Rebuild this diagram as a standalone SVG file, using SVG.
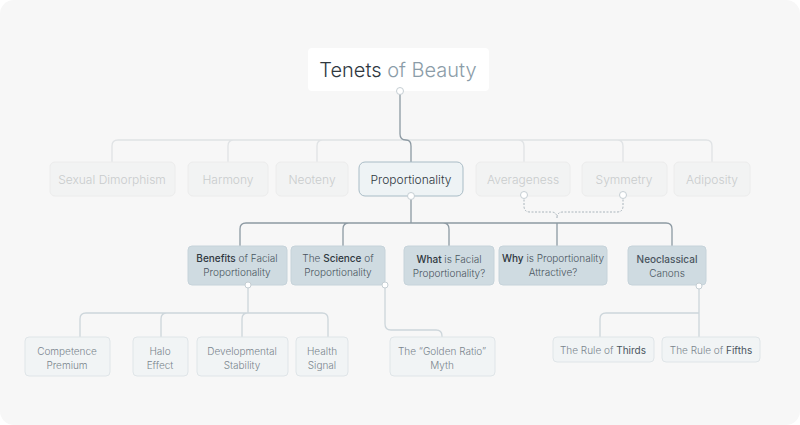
<svg xmlns="http://www.w3.org/2000/svg" width="800" height="425" viewBox="0 0 800 425">
<style>
text{font-family:Inter,"Liberation Sans",sans-serif;text-anchor:middle;dominant-baseline:central;font-weight:300}
.f rect{fill:#f2f3f3;stroke:#ececec}
.f text{fill:#c9cccd;font-size:12px}
.l2 rect{fill:#cfdbe1;stroke:#c6d3da}
.l2 text{fill:#4a5560;font-size:10px}
.l3 rect{fill:#f1f4f5;stroke:#dfe5e8}
.l3 text{fill:#7a858d;font-size:10px}
.b{fill:#2f383f;font-weight:500}
.c{fill:none;stroke:#e0e3e5;stroke-width:1.3}
.d{fill:none;stroke:#8d9aa3;stroke-width:1.3}
.s{fill:none;stroke:#cdd6db;stroke-width:1.3}
.dot{fill:#fff;stroke:#c5ced3}
</style>
<rect x="0" y="0" width="800" height="425" rx="14" fill="#f7f7f7"/>
<g id="connectors">
<path class="c" d="M112 162V146Q112 140 118 140H706Q712 140 712 146V162M228 162V146Q228 140 234 140M317 162V146Q317 140 323 140M524 162V146Q524 140 518 140M623 162V146Q623 140 617 140"/>
<path class="d" d="M400 93V134Q400 140 406 140Q411 140 411 146V162"/>
<path class="d" d="M411 196V223M246 223Q240 223 240 229V246M246 223H666Q672 223 672 229V246M343 246V229Q343 223 349 223M449 246V229Q449 223 443 223M557 223V246"/>
<path fill="none" stroke="#aab5bc" stroke-dasharray="2 1.5" d="M524 196V206Q524 212 530 212H551Q557 212 557 218M623 196V206Q623 212 617 212H563Q557 212 557 218"/>
<path class="s" d="M248 287V313M86 313Q80 313 80 319V337M86 313H322Q328 313 328 319V337M161 337V319Q161 313 167 313M242 337V319Q242 313 248 313"/>
<path class="s" d="M385 287V324Q385 330 391 330H436Q442 330 442 336V337"/>
<path class="s" d="M699 287V337M699 313H606Q600 313 600 319V337"/>
</g>
<g id="root"><rect x="308" y="48" width="181" height="43" rx="4" fill="#fff"/>
<text x="398" y="70" font-size="20" fill="#2f383f">Tenets <tspan fill="#8b9ca8">of Beauty</tspan></text>
<circle class="dot" cx="400" cy="91" r="3.5"/></g>
<g id="sexual" class="f"><rect x="50" y="162" width="125" height="34" rx="5"/><text x="112" y="179">Sexual Dimorphism</text></g>
<g id="harmony" class="f"><rect x="188" y="162" width="80" height="34" rx="5"/><text x="228" y="179">Harmony</text></g>
<g id="neoteny" class="f"><rect x="276" y="162" width="72" height="34" rx="5"/><text x="312" y="179">Neoteny</text></g>
<g id="prop"><rect x="359" y="162" width="104" height="34" rx="6" fill="#eef3f5" stroke="#a9bcc6"/><text x="411" y="179" font-size="12" fill="#2f383f">Proportionality</text><circle class="dot" cx="411" cy="196" r="3.5"/></g>
<g id="avg" class="f"><rect x="476" y="162" width="94" height="34" rx="5"/><text x="523" y="179">Averageness</text><circle class="dot" cx="524" cy="195" r="3.5"/></g>
<g id="sym" class="f"><rect x="582" y="162" width="85" height="34" rx="5"/><text x="624" y="179">Symmetry</text><circle class="dot" cx="623" cy="195" r="3.5"/></g>
<g id="adip" class="f"><rect x="674" y="162" width="76" height="34" rx="5"/><text x="712" y="179">Adiposity</text></g>
<g id="benefits" class="l2"><rect x="188" y="246" width="99" height="39" rx="4"/><text x="237" y="258"><tspan class="b">Benefits</tspan> of Facial</text><text x="237" y="272">Proportionality</text><circle class="dot" cx="248" cy="285" r="3"/></g>
<g id="science" class="l2"><rect x="291" y="246" width="94" height="39" rx="4"/><text x="338" y="258">The <tspan class="b">Science</tspan> of</text><text x="338" y="272">Proportionality</text><circle class="dot" cx="385" cy="285" r="3"/></g>
<g id="what" class="l2"><rect x="404" y="246" width="90" height="39" rx="4"/><text x="449" y="259"><tspan class="b">What</tspan> is Facial</text><text x="449" y="273">Proportionality?</text></g>
<g id="why" class="l2"><rect x="499" y="246" width="108" height="39" rx="4"/><text x="553" y="258"><tspan class="b">Why</tspan> is Proportionality</text><text x="553" y="272">Attractive?</text></g>
<g id="neo" class="l2"><rect x="628" y="246" width="78" height="39" rx="4"/><text x="667" y="259" class="b">Neoclassical</text><text x="667" y="273">Canons</text><circle class="dot" cx="699" cy="286" r="3"/></g>
<g id="comp" class="l3"><rect x="25" y="337" width="85" height="39" rx="4"/><text x="67" y="351">Competence</text><text x="67" y="365">Premium</text></g>
<g id="halo" class="l3"><rect x="133" y="337" width="55" height="39" rx="4"/><text x="160" y="351">Halo</text><text x="160" y="365">Effect</text></g>
<g id="dev" class="l3"><rect x="197" y="337" width="91" height="39" rx="4"/><text x="242" y="351">Developmental</text><text x="242" y="365">Stability</text></g>
<g id="health" class="l3"><rect x="296" y="337" width="52" height="39" rx="4"/><text x="322" y="351">Health</text><text x="322" y="365">Signal</text></g>
<g id="golden" class="l3"><rect x="390" y="337" width="105" height="39" rx="4"/><text x="442" y="351">The “Golden Ratio”</text><text x="442" y="365">Myth</text></g>
<g id="thirds" class="l3"><rect x="553" y="337" width="101" height="25" rx="4"/><text x="603" y="350">The Rule of <tspan fill="#4a5560" font-weight="400">Thirds</tspan></text></g>
<g id="fifths" class="l3"><rect x="662" y="337" width="98" height="25" rx="4"/><text x="711" y="350">The Rule of <tspan fill="#4a5560" font-weight="400">Fifths</tspan></text></g>
</svg>
